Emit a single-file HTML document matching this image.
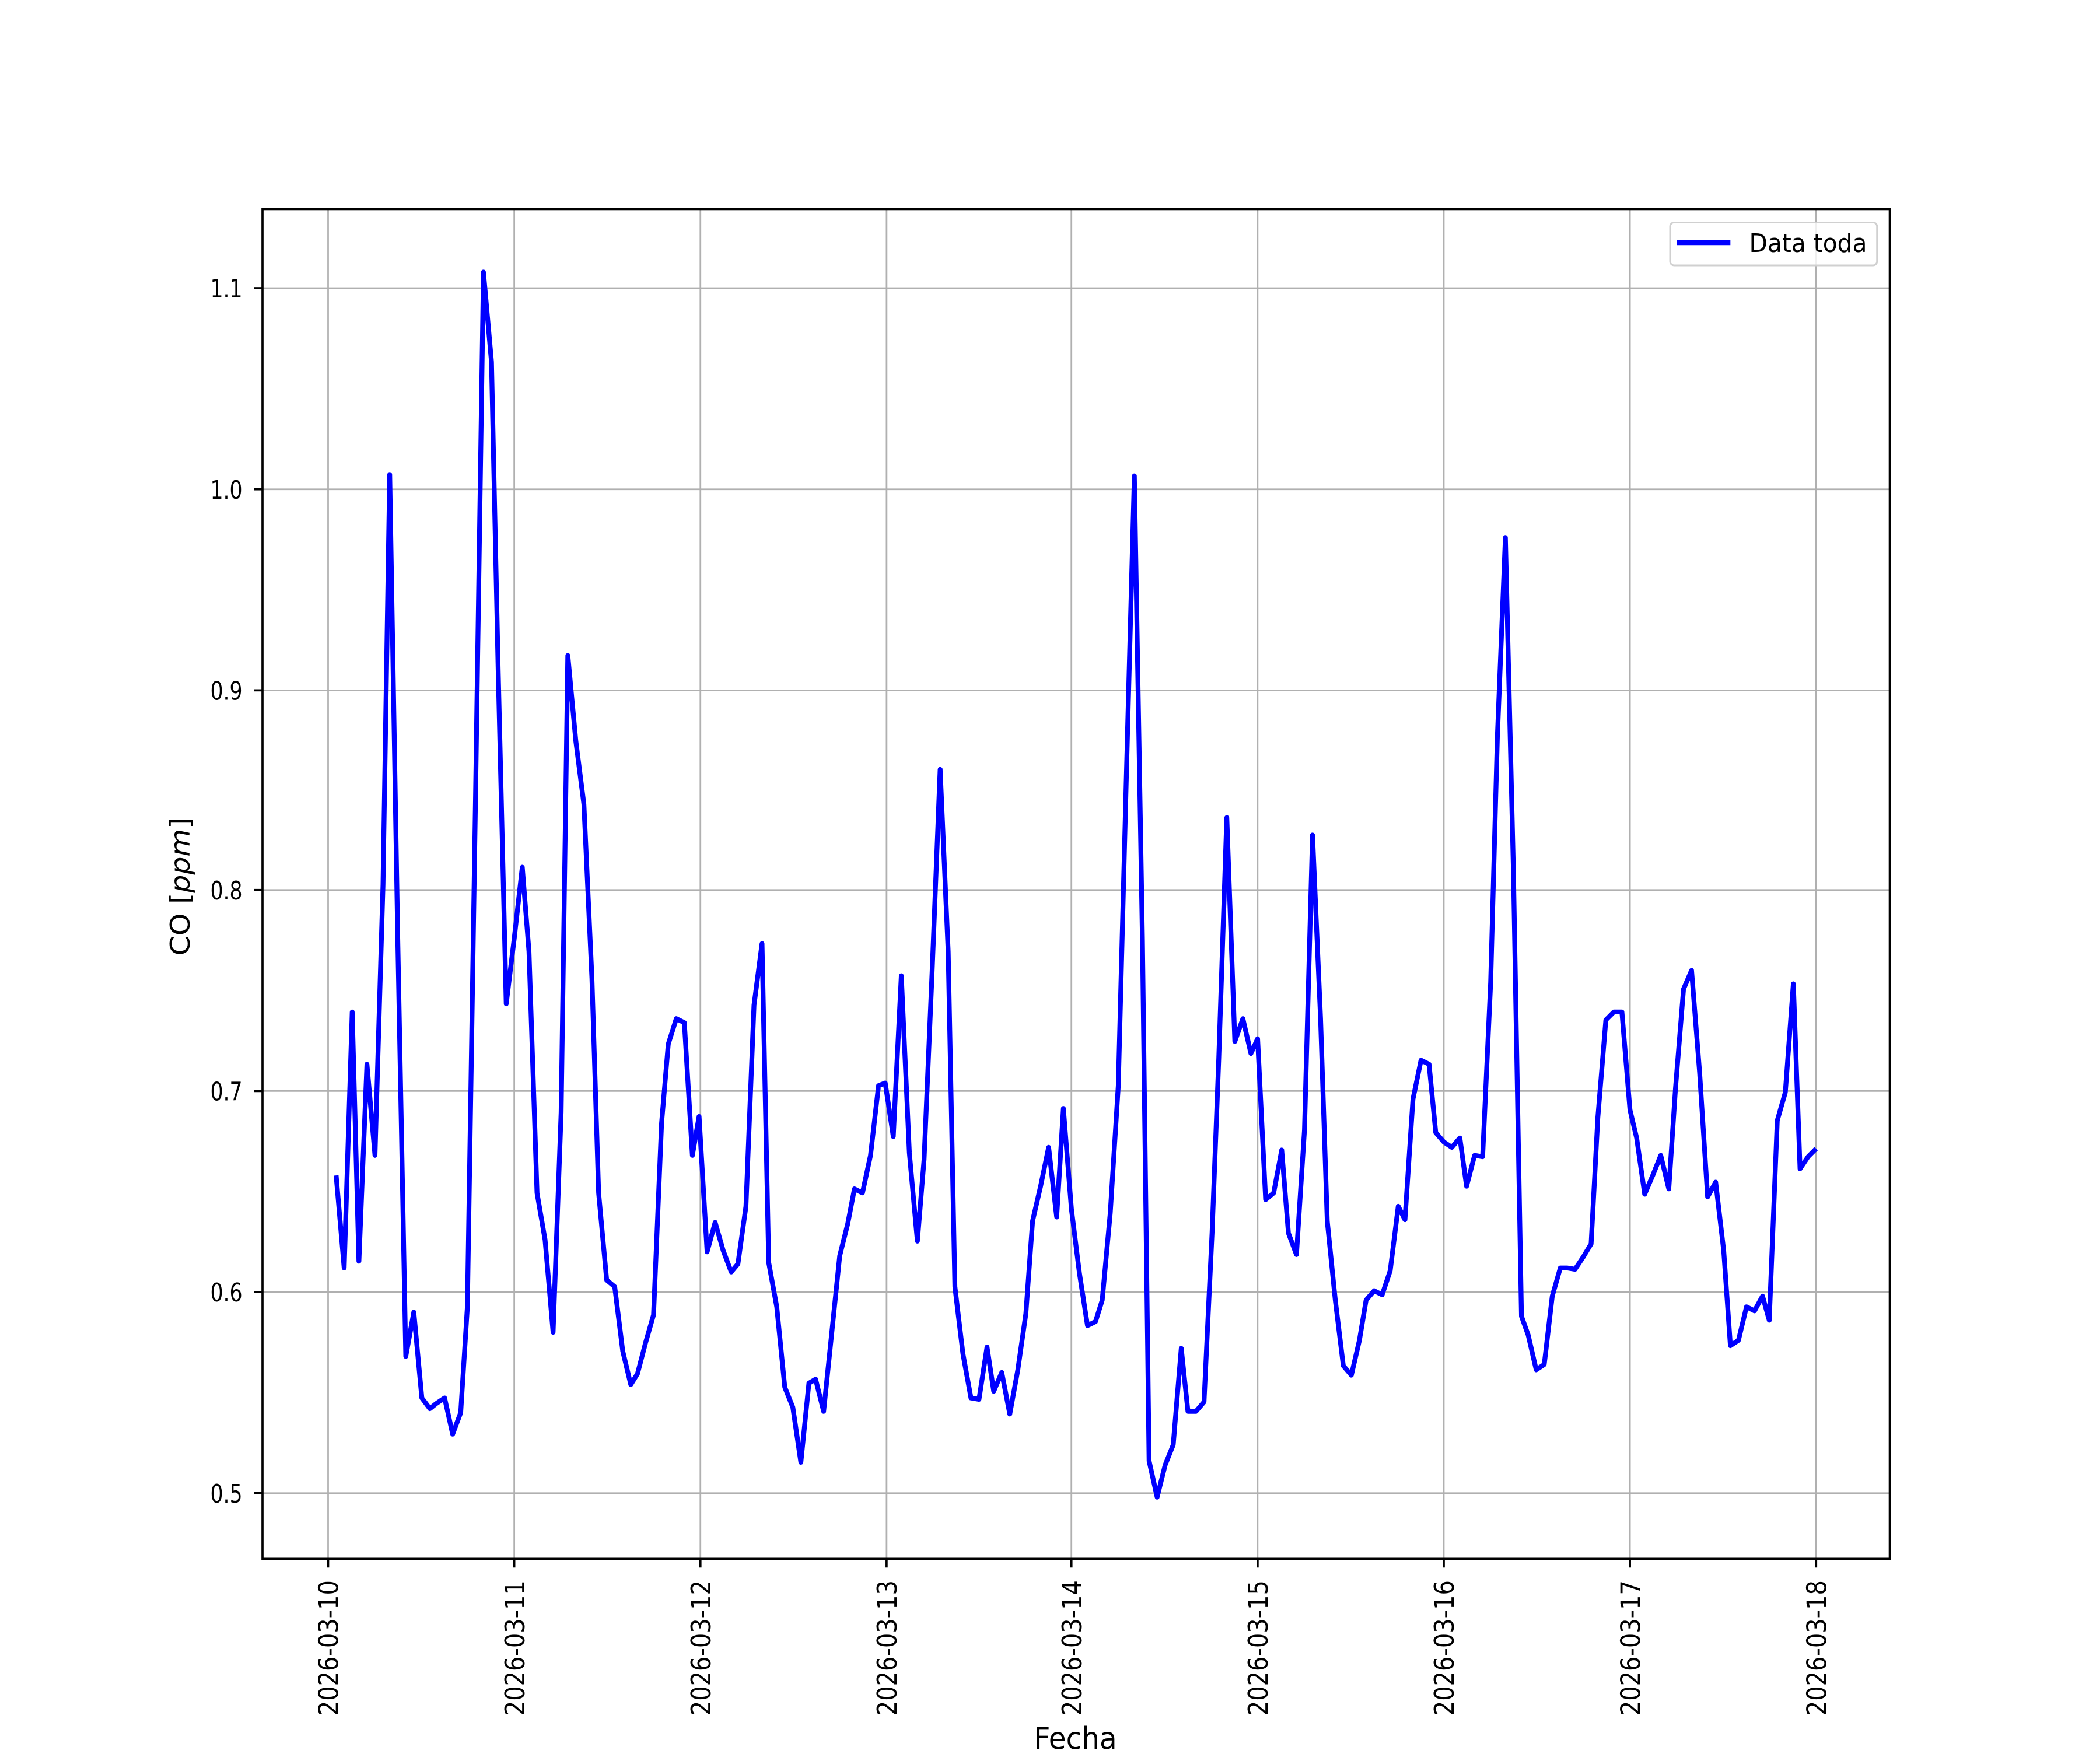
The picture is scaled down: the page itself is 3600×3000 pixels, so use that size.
<!DOCTYPE html>
<html><head><meta charset="utf-8"><style>
html,body{margin:0;padding:0;background:#fff;}
svg{display:block;}
text{font-family:"DejaVu Sans","Liberation Sans",sans-serif;fill:#000;}
</style></head><body>
<svg width="3600" height="3000" viewBox="0 0 1568 1305.6" preserveAspectRatio="none" xmlns="http://www.w3.org/2000/svg">
<rect width="1568" height="1306" fill="#fff"/>
<g stroke="#b0b0b0" stroke-width="1.2">
<line x1="196" x2="1411" y1="215" y2="215"/>
<line x1="196" x2="1411" y1="365" y2="365"/>
<line x1="196" x2="1411" y1="515" y2="515"/>
<line x1="196" x2="1411" y1="664" y2="664"/>
<line x1="196" x2="1411" y1="814" y2="814"/>
<line x1="196" x2="1411" y1="964" y2="964"/>
<line x1="196" x2="1411" y1="1114" y2="1114"/>
<line y1="156" y2="1163" x1="245" x2="245"/>
<line y1="156" y2="1163" x1="384" x2="384"/>
<line y1="156" y2="1163" x1="523" x2="523"/>
<line y1="156" y2="1163" x1="662" x2="662"/>
<line y1="156" y2="1163" x1="800" x2="800"/>
<line y1="156" y2="1163" x1="939" x2="939"/>
<line y1="156" y2="1163" x1="1078" x2="1078"/>
<line y1="156" y2="1163" x1="1217" x2="1217"/>
<line y1="156" y2="1163" x1="1356" x2="1356"/>
</g>
<polyline fill="none" stroke="#0000ff" stroke-width="3.6" stroke-linejoin="round" points="251,877 257,946 263,755 268,941 274,794 280,862 286,660 291,354 297,700 303,1012 309,979 315,1043 321,1051 326,1047 332,1043 338,1070 344,1054 349,975 355,600 361,203 367,270 372,500 378,749 384,700 390,647 395,710 401,890 407,925 413,994 419,830 424,489 430,553 436,600 442,730 447,890 453,955 459,960 465,1008 471,1033 476,1025 482,1002 488,981 494,838 499,779 505,760 511,763 517,862 522,833 528,934 534,912 540,933 546,949 551,943 557,900 563,750 569,704 574,942 580,975 586,1035 592,1050 598,1091 604,1032 609,1029 615,1053 621,995 627,937 633,913 638,887 644,890 650,862 656,810 661,808 667,848 673,728 679,860 685,926 690,865 696,725 702,574 708,710 713,960 719,1010 725,1043 731,1044 737,1005 742,1038 748,1024 754,1055 760,1022 766,980 771,911 777,885 783,856 789,908 794,827 800,902 806,950 812,989 818,986 823,970 829,905 835,810 841,580 847,355 853,700 858,1090 864,1117 870,1093 876,1078 882,1006 887,1053 893,1053 899,1046 905,920 910,790 916,610 922,777 928,760 934,786 939,775 945,895 951,890 957,858 962,920 968,936 974,843 980,623 986,760 991,911 997,970 1003,1019 1009,1026 1015,1000 1020,970 1026,963 1032,966 1038,948 1044,900 1049,910 1055,820 1061,791 1067,794 1072,845 1078,852 1084,856 1090,849 1095,885 1101,862 1107,863 1113,733 1118,550 1124,401 1130,650 1136,982 1141,996 1147,1022 1153,1018 1159,967 1165,946 1170,946 1176,947 1182,938 1188,928 1193,834 1199,761 1205,755 1211,755 1217,828 1222,849 1228,891 1234,877 1240,862 1246,887 1251,812 1257,738 1263,724 1269,800 1275,893 1281,882 1287,933 1292,1004 1298,1000 1304,975 1310,978 1316,967 1321,985 1327,836 1333,815 1339,734 1344,872 1350,863 1356,857"/>
<rect x="196" y="156" width="1215" height="1007" fill="none" stroke="#000" stroke-width="1.6"/>
<g stroke="#000" stroke-width="1.6">
<line x1="189.5" x2="196" y1="215" y2="215"/><line x1="189.5" x2="196" y1="365" y2="365"/><line x1="189.5" x2="196" y1="515" y2="515"/><line x1="189.5" x2="196" y1="664" y2="664"/><line x1="189.5" x2="196" y1="814" y2="814"/><line x1="189.5" x2="196" y1="964" y2="964"/><line x1="189.5" x2="196" y1="1114" y2="1114"/>
<line y1="1163" y2="1169.5" x1="245" x2="245"/><line y1="1163" y2="1169.5" x1="384" x2="384"/><line y1="1163" y2="1169.5" x1="523" x2="523"/><line y1="1163" y2="1169.5" x1="662" x2="662"/><line y1="1163" y2="1169.5" x1="800" x2="800"/><line y1="1163" y2="1169.5" x1="939" x2="939"/><line y1="1163" y2="1169.5" x1="1078" x2="1078"/><line y1="1163" y2="1169.5" x1="1217" x2="1217"/><line y1="1163" y2="1169.5" x1="1356" x2="1356"/>
</g>
<g font-size="19" text-anchor="end">
<text x="181" y="222" textLength="24" lengthAdjust="spacingAndGlyphs">1.1</text>
<text x="181" y="372" textLength="24" lengthAdjust="spacingAndGlyphs">1.0</text>
<text x="181" y="522" textLength="24" lengthAdjust="spacingAndGlyphs">0.9</text>
<text x="181" y="671" textLength="24" lengthAdjust="spacingAndGlyphs">0.8</text>
<text x="181" y="821" textLength="24" lengthAdjust="spacingAndGlyphs">0.7</text>
<text x="181" y="971" textLength="24" lengthAdjust="spacingAndGlyphs">0.6</text>
<text x="181" y="1121" textLength="24" lengthAdjust="spacingAndGlyphs">0.5</text>
</g>
<g font-size="20" text-anchor="end">
<text transform="translate(252.5,1179) rotate(-90)" textLength="101" lengthAdjust="spacingAndGlyphs">2026-03-10</text>
<text transform="translate(391.5,1179) rotate(-90)" textLength="101" lengthAdjust="spacingAndGlyphs">2026-03-11</text>
<text transform="translate(530.5,1179) rotate(-90)" textLength="101" lengthAdjust="spacingAndGlyphs">2026-03-12</text>
<text transform="translate(669.5,1179) rotate(-90)" textLength="101" lengthAdjust="spacingAndGlyphs">2026-03-13</text>
<text transform="translate(807.5,1179) rotate(-90)" textLength="101" lengthAdjust="spacingAndGlyphs">2026-03-14</text>
<text transform="translate(946.5,1179) rotate(-90)" textLength="101" lengthAdjust="spacingAndGlyphs">2026-03-15</text>
<text transform="translate(1085.5,1179) rotate(-90)" textLength="101" lengthAdjust="spacingAndGlyphs">2026-03-16</text>
<text transform="translate(1224.5,1179) rotate(-90)" textLength="101" lengthAdjust="spacingAndGlyphs">2026-03-17</text>
<text transform="translate(1363.5,1179) rotate(-90)" textLength="101" lengthAdjust="spacingAndGlyphs">2026-03-18</text>
</g>
<text x="772" y="1305" font-size="23" textLength="62" lengthAdjust="spacingAndGlyphs">Fecha</text>
<text transform="translate(141.5,713) rotate(-90)" font-size="20" textLength="103" lengthAdjust="spacingAndGlyphs">CO [<tspan font-style="italic">ppm</tspan>]</text>
<rect x="1247" y="166" width="154.5" height="32" rx="3" fill="#fff" fill-opacity="0.8" stroke="#d0d0d0" stroke-width="1.3"/>
<line x1="1252" x2="1292" y1="181" y2="181" stroke="#0000ff" stroke-width="3.8"/>
<text x="1306" y="188" font-size="19" textLength="88" lengthAdjust="spacingAndGlyphs">Data toda</text>
</svg>
</body></html>
